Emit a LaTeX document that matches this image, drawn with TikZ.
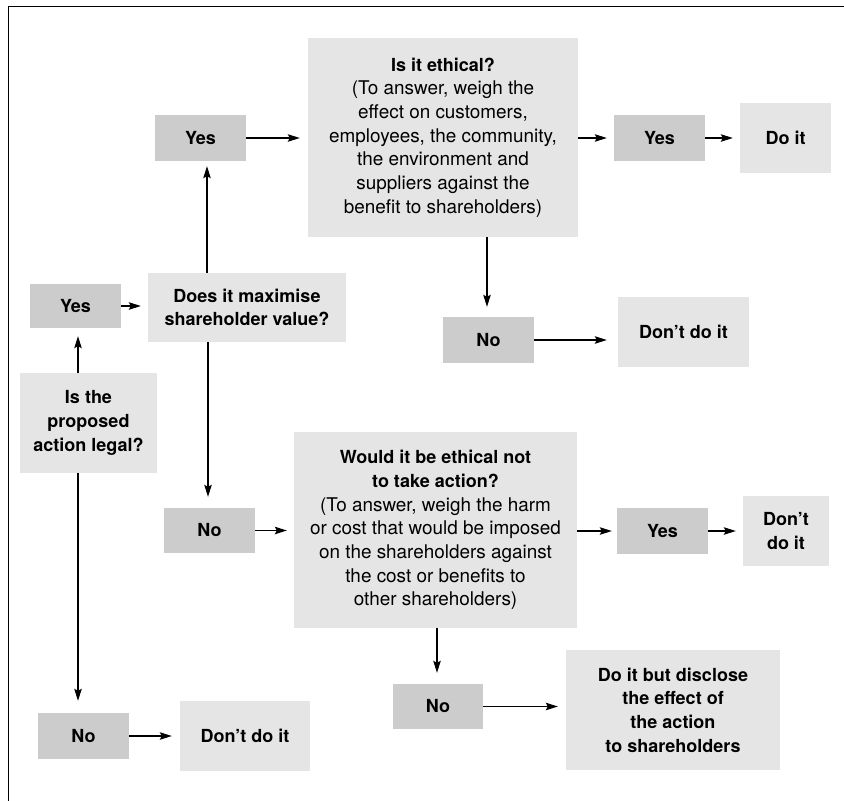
\documentclass[tikz,border=0pt]{standalone}
\usepackage{fontspec}
\setmainfont{TeX Gyre Heros}
\usetikzlibrary{arrows.meta}
\definecolor{dk}{HTML}{CCCCCC}
\definecolor{lt}{HTML}{E5E5E5}
\newcommand\hdline[1]{{\fontsize{18}{23.7}\selectfont\bfseries #1}}
\begin{document}
\begin{tikzpicture}[x=1pt,y=-1pt,
  every node/.style={font=\fontsize{18}{23.7}\selectfont, align=center, inner sep=0pt, text=black},
  dbox/.style={fill=dk, font=\fontsize{18}{23.7}\selectfont\bfseries},
  lbox/.style={fill=lt, font=\fontsize{18}{23.7}\selectfont\bfseries},
  tbox/.style={fill=lt, font=\fontsize{18.9}{23.7}\selectfont},
  arr/.style={line width=1.1pt, -{Stealth[length=12pt,width=7.5pt,inset=2pt]}, shorten >=#1},
  arr/.default=7pt,
  frame/.style={line width=1.5pt}]
\useasboundingbox (0,0) rectangle (844,801);
\draw[frame] (8.5,801) -- (8.5,6.5) -- (844,6.5);

% boxes
\node[dbox, minimum width=91pt, minimum height=46pt] (yesA) at (200.5,138) {Yes};
\node[tbox, minimum width=270pt, minimum height=199pt] (ethic) at (443,137.5)
  {\hdline{Is it ethical?}\\(To answer, weigh the\\effect on customers,\\employees, the community,\\the environment and\\suppliers against the\\benefit to shareholders)};
\node[dbox, minimum width=91pt, minimum height=46pt] (yesB) at (659.5,138) {Yes};
\node[lbox, minimum width=91pt, minimum height=70pt] (doit) at (785.5,138) {Do it};
\node[dbox, minimum width=91pt, minimum height=44pt] (yesC) at (75.5,306) {Yes};
\node[lbox, minimum width=198pt, minimum height=69pt] (maxi) at (247,307.5) {Does it maximise\\shareholder value?};
\node[lbox, minimum width=137pt, minimum height=100pt] (legal) at (88.5,423) {Is the\\proposed\\action legal?};
\node[dbox, minimum width=91pt, minimum height=46pt] (noA) at (488.5,340) {No};
\node[lbox, minimum width=131pt, minimum height=70pt] (dontA) at (683.5,332) {Don’t do it};
\node[dbox, minimum width=91pt, minimum height=45pt] (noB) at (209.5,530.5) {No};
\node[tbox, minimum width=283pt, minimum height=196pt] (would) at (435.5,530)
  {\hdline{Would it be ethical not}\\\hdline{to take action?}\\(To answer, weigh the harm\\or cost that would be imposed\\on the shareholders against\\the cost or benefits to\\other shareholders)};
\node[dbox, minimum width=91pt, minimum height=46pt] (yesD) at (662.5,531) {Yes};
\node[lbox, minimum width=86pt, minimum height=70pt] (dontB) at (786,531) {Don’t\\do it};
\node[dbox, minimum width=90pt, minimum height=45pt] (noC) at (438,706.5) {No};
\node[lbox, minimum width=214pt, minimum height=120pt] (discl) at (673,710) {Do it but disclose\\the effect of\\the action\\to shareholders};
\node[dbox, minimum width=91pt, minimum height=46pt] (noD) at (83.5,736) {No};
\node[lbox, minimum width=130pt, minimum height=70pt] (dontC) at (245,736) {Don’t do it};

% guide coordinates for vertical connectors
\coordinate (xL) at (78,0);
\coordinate (xM1) at (207,0);
\coordinate (xM2) at (208,0);
\coordinate (xE) at (487,0);
\coordinate (xW) at (437,0);

% connectors
\draw[arr=8pt] (legal.north -| xL) -- (yesC.south -| xL);
\draw[arr=12pt] (legal.south -| xL) -- (noD.north -| xL);
\draw[arr=7pt] (yesC.east) -- (yesC.east -| maxi.west);
\draw[arr=5pt] (maxi.north -| xM1) -- (yesA.south -| xM1);
\draw[arr=11pt] (maxi.south -| xM2) -- (noB.north -| xM2);
\draw[arr=8pt] (yesA.east) -- (yesA.east -| ethic.west);
\draw[arr=7pt] (ethic.east |- yesB.west) -- (yesB.west);
\draw[arr=7pt] (yesB.east) -- (yesB.east -| doit.west);
\draw[arr=10pt] (ethic.south -| xE) -- (noA.north -| xE);
\draw[arr=11pt] (noA.east) -- (noA.east -| dontA.west);
\draw[arr=7pt] (noB.east) -- (noB.east -| would.west);
\draw[arr=5pt] (would.east |- yesD.west) -- (yesD.west);
\draw[arr=7pt] (yesD.east) -- (yesD.east -| dontB.west);
\draw[arr=11pt] (would.south -| xW) -- (noC.north -| xW);
\draw[arr=8pt] (noC.east) -- (noC.east -| discl.west);
\draw[arr=8pt] (noD.east) -- (noD.east -| dontC.west);
\end{tikzpicture}
\end{document}
